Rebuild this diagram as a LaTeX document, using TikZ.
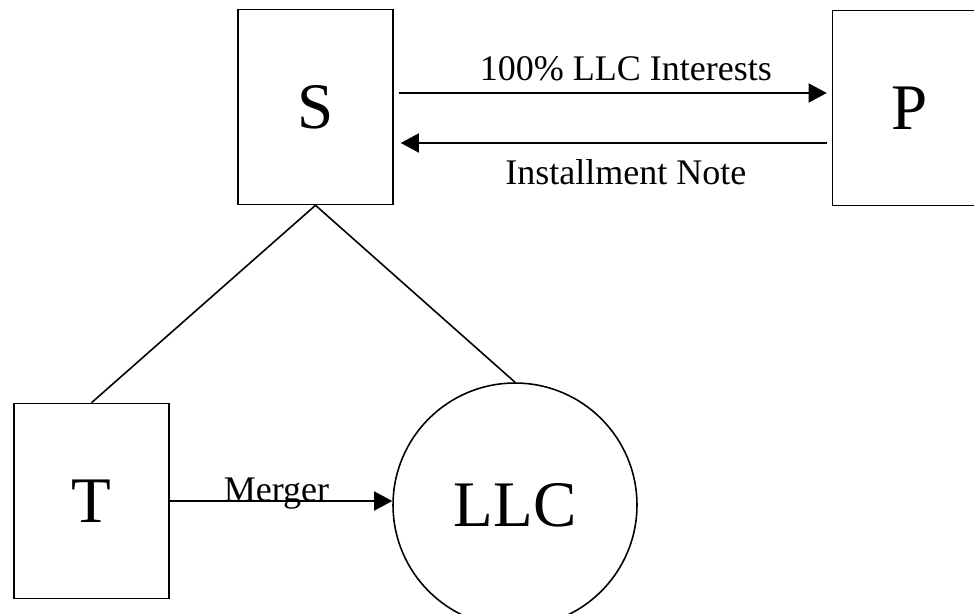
\documentclass[tikz,border=0pt]{standalone}
\usepackage{fontspec}
\setmainfont{Liberation Serif}
\usetikzlibrary{arrows.meta,positioning}

\begin{document}
\begin{tikzpicture}[
  x=0.02cm, y=-0.02cm,
  line width=0.9pt,
  party/.style={draw, rectangle, minimum width=3.1cm, minimum height=3.9cm, font=\fontsize{37}{42}\selectfont},
  entity/.style={draw, circle, minimum size=4.88cm, font=\fontsize{37}{42}\selectfont},
  flow/.style={-{Triangle[length=0.36cm, width=0.38cm]}},
  lbl/.style={font=\fontsize{20.5}{24}\selectfont}
]
\useasboundingbox (0,0) rectangle (974,613);

\node[party] (S) at (315.5,107) {S};
\node[party] (P) at (910,108) {P};
\node[party] (T) at (91.5,501) {T};
\node[entity] (LLC) at (515,505) {LLC};

% S <-> P
\draw[flow, shorten <=0.1cm, shorten >=0.1cm] ([yshift=0.28cm]S.east) -- ([yshift=0.28cm]S.east -| P.west)
  node[lbl, pos=0.53, above=0.1cm] {100\% LLC Interests};
\draw[flow, shorten <=0.1cm, shorten >=0.14cm] ([yshift=-0.72cm]S.east -| P.west) -- ([yshift=-0.72cm]S.east)
  node[lbl, pos=0.47, below=0.2cm] {Installment Note};

% ownership
\draw (S.south) -- (T.north);
\draw (S.south) -- (LLC.north);

% merger
\draw[flow] (T.east) -- (T.east -| LLC.west)
  node[lbl, pos=0.48, anchor=base, inner sep=0pt] {Merger};
\end{tikzpicture}
\end{document}
